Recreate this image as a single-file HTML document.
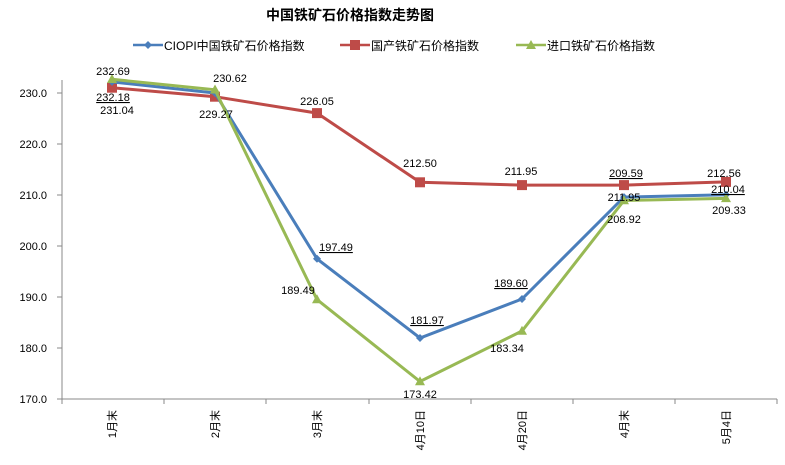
<!DOCTYPE html><html><head><meta charset="utf-8"><style>body{margin:0;background:#fff}svg{display:block}text{font-family:"Liberation Sans","Noto Sans CJK SC",sans-serif;font-size:11px;fill:#000}</style></head><body>
<svg width="785" height="465" viewBox="0 0 785 465">
<text x="350" y="20" text-anchor="middle" style="font-size:14px;font-weight:bold">中国铁矿石价格指数走势图</text>
<g font-size="12">
<line x1="133" y1="45" x2="163" y2="45" stroke="#4a7ebb" stroke-width="2.5"/><path d="M148 41 L152 45 148 49 144 45Z" fill="#4a7ebb"/><text x="164" y="50" style="font-size:12px">CIOPI中国铁矿石价格指数</text>
<line x1="340" y1="45" x2="370" y2="45" stroke="#be4b48" stroke-width="2.5"/><rect x="350" y="40" width="10" height="10" fill="#be4b48"/><text x="371" y="50" style="font-size:12px">国产铁矿石价格指数</text>
<line x1="516" y1="45" x2="546" y2="45" stroke="#98b954" stroke-width="2.5"/><path d="M531 40 L536 49 526 49Z" fill="#98b954"/><text x="547" y="50" style="font-size:12px">进口铁矿石价格指数</text>
</g>
<line x1="62" y1="80" x2="62" y2="399" stroke="#888"/>
<line x1="62" y1="399" x2="777" y2="399" stroke="#888"/>
<g stroke="#888">
<line x1="57" y1="93" x2="62" y2="93"/><line x1="57" y1="144" x2="62" y2="144"/><line x1="57" y1="195" x2="62" y2="195"/><line x1="57" y1="246" x2="62" y2="246"/><line x1="57" y1="297" x2="62" y2="297"/><line x1="57" y1="348" x2="62" y2="348"/><line x1="57" y1="399" x2="62" y2="399"/>
<line x1="164" y1="399" x2="164" y2="404"/><line x1="266" y1="399" x2="266" y2="404"/><line x1="369" y1="399" x2="369" y2="404"/><line x1="471" y1="399" x2="471" y2="404"/><line x1="573" y1="399" x2="573" y2="404"/><line x1="675" y1="399" x2="675" y2="404"/><line x1="777" y1="399" x2="777" y2="404"/><line x1="62" y1="399" x2="62" y2="404"/>
</g>
<g text-anchor="end">
<text x="47" y="97">230.0</text><text x="47" y="148">220.0</text><text x="47" y="199">210.0</text><text x="47" y="250">200.0</text><text x="47" y="301">190.0</text><text x="47" y="352">180.0</text><text x="47" y="403">170.0</text>
</g>
<g text-anchor="end">
<text transform="translate(116,410) rotate(-90)">1月末</text>
<text transform="translate(219,410) rotate(-90)">2月末</text>
<text transform="translate(321,410) rotate(-90)">3月末</text>
<text transform="translate(424,410) rotate(-90)">4月10日</text>
<text transform="translate(526,410) rotate(-90)">4月20日</text>
<text transform="translate(628,410) rotate(-90)">4月末</text>
<text transform="translate(730,410) rotate(-90)">5月4日</text>
</g>
<polyline fill="none" stroke="#be4b48" stroke-width="3" points="112,87.7 215,96.7 317,113.1 420,182.3 522,185.1 624,185.1 726,181.9"/>
<g fill="#be4b48"><rect x="107" y="82.7" width="10" height="10"/><rect x="210" y="91.7" width="10" height="10"/><rect x="312" y="108.1" width="10" height="10"/><rect x="415" y="177.3" width="10" height="10"/><rect x="517" y="180.1" width="10" height="10"/><rect x="619" y="180.1" width="10" height="10"/><rect x="721" y="176.9" width="10" height="10"/></g>
<polyline fill="none" stroke="#4a7ebb" stroke-width="3" points="112,81.9 215,93 317,258.8 420,338 522,299 624,197.1 726,194.8"/>
<g fill="#4a7ebb"><path d="M112 77.9l4 4-4 4-4-4z"/><path d="M215 89l4 4-4 4-4-4z"/><path d="M317 254.8l4 4-4 4-4-4z"/><path d="M420 334l4 4-4 4-4-4z"/><path d="M522 295l4 4-4 4-4-4z"/><path d="M624 193.1l4 4-4 4-4-4z"/><path d="M726 190.8l4 4-4 4-4-4z"/></g>
<polyline fill="none" stroke="#98b954" stroke-width="3" points="112,79.3 215,89.8 317,299.6 420,381.5 522,331 624,200.5 726,198.4"/>
<g fill="#98b954"><path d="M112 74l5 9h-10z"/><path d="M215 84.5l5 9h-10z"/><path d="M317 294.3l5 9h-10z"/><path d="M420 376.2l5 9h-10z"/><path d="M522 325.7l5 9h-10z"/><path d="M624 195.2l5 9h-10z"/><path d="M726 193.1l5 9h-10z"/></g>
<g text-anchor="middle">
<text x="113" y="75">232.69</text><text x="113" y="101" text-decoration="underline">232.18</text><text x="117" y="114">231.04</text>
<text x="230" y="82">230.62</text><text x="216" y="118">229.27</text>
<text x="317" y="105">226.05</text><text x="336" y="251" text-decoration="underline">197.49</text><text x="298" y="294">189.49</text>
<text x="420" y="167">212.50</text><text x="427" y="324" text-decoration="underline">181.97</text><text x="420" y="398">173.42</text>
<text x="521" y="175">211.95</text><text x="511" y="287" text-decoration="underline">189.60</text><text x="507" y="352">183.34</text>
<text x="626" y="177" text-decoration="underline">209.59</text><text x="624" y="201">211.95</text><text x="624" y="223">208.92</text>
<text x="724" y="177">212.56</text><text x="728" y="193" text-decoration="underline">210.04</text><text x="729" y="214">209.33</text>
</g>
</svg></body></html>
